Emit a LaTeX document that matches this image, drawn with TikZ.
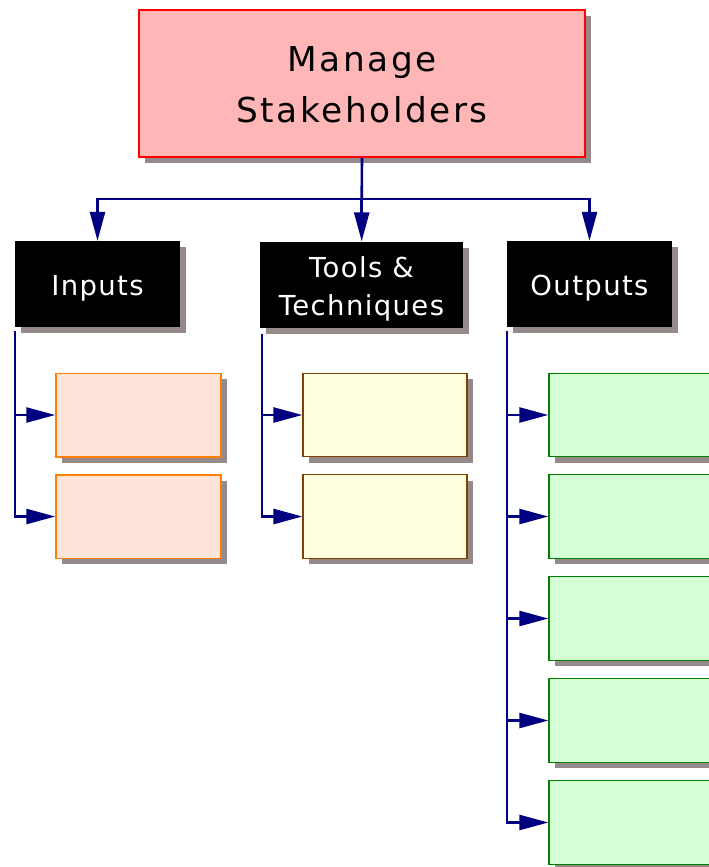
\documentclass[tikz,border=0pt]{standalone}
\usepackage{fontspec}
\usetikzlibrary{arrows.meta,shadows}
\newfontfamily\topfont[LetterSpace=7.5]{DejaVu Sans}
\newfontfamily\hdrfont[LetterSpace=5]{DejaVu Sans}
\definecolor{shadowc}{RGB}{148,138,138}
\definecolor{navyc}{RGB}{0,0,128}
\definecolor{pinkfill}{RGB}{255,182,182}
\definecolor{peachfill}{RGB}{255,228,217}
\definecolor{peachdraw}{RGB}{255,128,0}
\definecolor{yelfill}{RGB}{255,255,224}
\definecolor{yeldraw}{RGB}{128,64,0}
\definecolor{grnfill}{RGB}{213,255,213}
\definecolor{grndraw}{RGB}{0,128,0}
\tikzset{
  shad/.style={drop shadow={fill=shadowc,opacity=1,shadow xshift=6pt,shadow yshift=-6pt}},
  topbox/.style={shad,draw=red,fill=pinkfill,line width=1.6pt,minimum width=446pt,minimum height=147pt,inner sep=0,align=center},
  toptxt/.style={align=center,inner sep=0,yshift=-1.5pt,font=\topfont\fontsize{34.3}{51}\selectfont},
  hdr/.style={shad,fill=black,minimum height=86pt,inner sep=0},
  hdrtxt/.style={align=center,inner sep=0,text=white,yshift=-4.5pt,font=\hdrfont\fontsize{27.5}{38}\selectfont},
  inbox/.style={shad,draw=peachdraw,fill=peachfill,line width=1.5pt,minimum width=165pt,minimum height=83.5pt,inner sep=0},
  ttbox/.style={shad,draw=yeldraw,fill=yelfill,line width=1.2pt,minimum width=164pt,minimum height=83.5pt,inner sep=0},
  outbox/.style={shad,draw=grndraw,fill=grnfill,line width=1.4pt,minimum width=165pt,minimum height=83.5pt,inner sep=0},
  conn/.style={draw=navyc,line width=2.6pt},
  arr/.style={conn,-{Triangle[length=29pt,width=15pt]}},
}
\begin{document}
\begin{tikzpicture}[x=1pt,y=-1pt]
\useasboundingbox (0,0) rectangle (709,867);
\clip (0,0) rectangle (709,867);
\node[topbox,label={[toptxt]center:{Manage\\Stakeholders}}] (top) at (362,83.5) {};
\node[hdr,minimum width=165pt,label={[hdrtxt]center:Inputs}] (inp) at (97.5,284) {};
\node[hdr,minimum width=203pt,label={[hdrtxt]center:{Tools \&\\Techniques}}] (tt) at (361.5,284.5) {};
\node[hdr,minimum width=165pt,label={[hdrtxt]center:Outputs}] (out) at (589.5,284) {};
% input boxes
\node[inbox] (i1) at (138.5,415) {};
\node[inbox] (i2) at (138.5,516.5) {};
% tools boxes
\node[ttbox] (t1) at (385,415) {};
\node[ttbox] (t2) at (385,516.5) {};
% output boxes
\node[outbox] (o1) at (631.5,415) {};
\node[outbox] (o2) at (631.5,516.5) {};
\node[outbox] (o3) at (631.5,618.5) {};
\node[outbox] (o4) at (631.5,720.5) {};
\node[outbox] (o5) at (631.5,822.5) {};
% top connectors
\coordinate (j) at (361.7,199);
\draw[conn] (top.south) -- (j);
\draw[arr] (j) -| (inp.north);
\draw[arr] (j) -- (j |- tt.north);
\draw[arr] (j) -| (out.north);
% branch starts
\coordinate (ia) at (15,331);
\coordinate (ta) at (262,334);
\coordinate (oa) at (507,331);
\draw[arr] (ia) |- (i2.west);
\draw[arr] (ia |- i1.west) -- (i1.west);
\draw[arr] (ta) |- (t2.west);
\draw[arr] (ta |- t1.west) -- (t1.west);
\draw[arr] (oa) |- (o5.west);
\foreach \b in {o1,o2,o3,o4}{\draw[arr] (oa |- \b.west) -- (\b.west);}
\end{tikzpicture}
\end{document}
